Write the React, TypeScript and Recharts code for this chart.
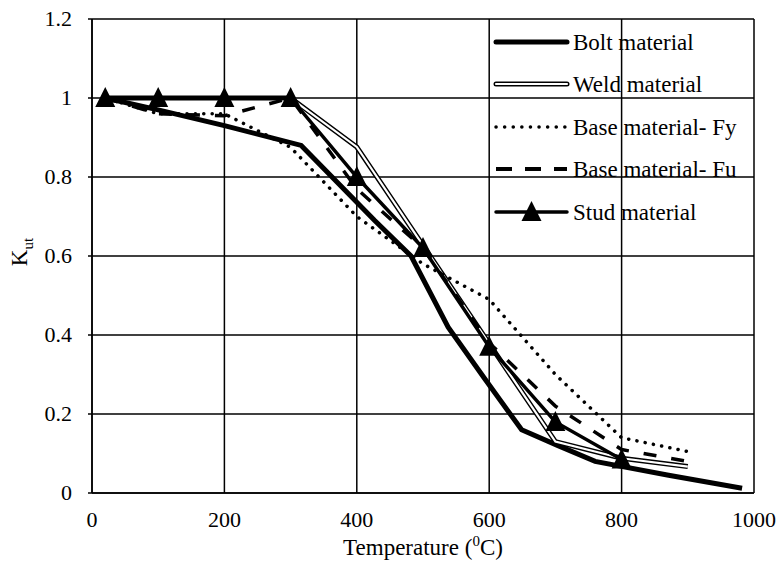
import React from 'react';
import { LineChart, Line, XAxis, YAxis, CartesianGrid, Label } from 'recharts';

const FONT = '"Liberation Serif", "Times New Roman", Times, serif';

// temperatures (°C) and reduction factors
const boltTemp = [20, 100, 200, 316, 427, 482, 538, 593, 649, 704, 760, 871, 982];
const boltK = [1.0, 0.97, 0.93, 0.88, 0.69, 0.6, 0.42, 0.29, 0.16, 0.12, 0.08, 0.045, 0.012];

const weldTemp = [20, 100, 200, 300, 400, 500, 600, 700, 800, 900];
const weldK = [1.0, 1.0, 1.0, 1.0, 0.876, 0.627, 0.378, 0.13, 0.088, 0.067];

const fyTemp = [20, 100, 200, 300, 400, 500, 600, 700, 800, 900];
const fyK = [1.0, 0.96, 0.96, 0.875, 0.7, 0.58, 0.49, 0.3, 0.14, 0.105];

const fuTemp = [20, 100, 200, 300, 400, 500, 600, 700, 800, 900];
const fuK = [1.0, 0.96, 0.955, 1.0, 0.77, 0.62, 0.38, 0.22, 0.11, 0.08];

const studTemp = [20, 100, 200, 300, 400, 500, 600, 700, 800];
const studK = [1.0, 1.0, 1.0, 1.0, 0.8, 0.62, 0.37, 0.18, 0.085];

const xTicks = [0, 200, 400, 600, 800, 1000];
const yTicks = [0, 0.2, 0.4, 0.6, 0.8, 1, 1.2];

const legendNames = ['Bolt material', 'Weld material', 'Base material- Fy', 'Base material- Fu', 'Stud material'];

const toPoints = (t: number[], k: number[]) => t.map((x, i) => ({ x, y: k[i] }));

const bolt = toPoints(boltTemp, boltK);
const weld = toPoints(weldTemp, weldK);
const fy = toPoints(fyTemp, fyK);
const fu = toPoints(fuTemp, fuK);
const stud = toPoints(studTemp, studK);

const Triangle = (props: any) => {
  const { cx, cy } = props;
  if (cx == null || cy == null) return null;
  return <polygon points={`${cx},${cy - 11} ${cx - 10},${cy + 9} ${cx + 10},${cy + 9}`} fill="#000" />;
};

const XTick = (props: any) => {
  const { x, y, payload } = props;
  return (
    <text x={x} y={y + 12} textAnchor="middle" fontFamily={FONT} fontSize={22} fill="#000">
      {payload.value}
    </text>
  );
};

const YTick = (props: any) => {
  const { x, y, payload } = props;
  return (
    <text x={x} y={y + 7} textAnchor="end" fontFamily={FONT} fontSize={22} fill="#000">
      {String(payload.value)}
    </text>
  );
};

// legend drawn over the plot, grid lines stay visible behind it
const LegendBox = () => {
  const rowY = [24, 66, 109, 151, 194];
  const x1 = 6;
  const x2 = 77;
  return (
    <svg width={270} height={215} style={{ position: 'absolute', left: 490, top: 18, overflow: 'visible' }}>
      <line x1={x1} x2={x2} y1={rowY[0]} y2={rowY[0]} stroke="#000" strokeWidth={5} strokeLinecap="round" />
      <line x1={x1} x2={x2} y1={rowY[1]} y2={rowY[1]} stroke="#000" strokeWidth={5} strokeLinecap="round" />
      <line x1={x1} x2={x2} y1={rowY[1]} y2={rowY[1]} stroke="#fff" strokeWidth={2.2} strokeLinecap="round" />
      <line x1={x1} x2={x2} y1={rowY[2]} y2={rowY[2]} stroke="#000" strokeWidth={3.5} strokeLinecap="round" strokeDasharray="0.1 8.5" />
      <line x1={x1} x2={x2} y1={rowY[3]} y2={rowY[3]} stroke="#000" strokeWidth={4} strokeDasharray="16 13" />
      <line x1={x1} x2={x2} y1={rowY[4]} y2={rowY[4]} stroke="#000" strokeWidth={3.5} strokeLinecap="round" />
      <Triangle cx={(x1 + x2) / 2} cy={rowY[4]} />
      {legendNames.map((n, i) => (
        <text key={n} x={83} y={rowY[i] + 8} fontFamily={FONT} fontSize={23} fill="#000">{n}</text>
      ))}
    </svg>
  );
};

export default function App() {
  return (
    <div style={{ position: 'absolute', left: 0, top: 0, width: 782, height: 565, background: '#fff', fontFamily: FONT }}>
      <LineChart width={782} height={565} margin={{ top: 19, right: 28, bottom: 32, left: 32 }}>
        <CartesianGrid stroke="#000" strokeWidth={1.5} horizontalValues={yTicks} verticalValues={xTicks} />
        <XAxis
          type="number"
          dataKey="x"
          domain={[0, 1000]}
          ticks={xTicks}
          height={40}
          tickSize={0}
          tickMargin={22}
          axisLine={{ stroke: '#000', strokeWidth: 1.5 }}
          tick={<XTick />}
          interval={0}
          allowDataOverflow
        >
          <Label
            content={(p: any) => {
              const vb = p.viewBox || { x: 92, y: 493, width: 662 };
              return (
                <text x={vb.x + vb.width / 2} y={vb.y + 62} textAnchor="middle" fontFamily={FONT} fontSize={23} fill="#000">
                  Temperature (<tspan dy={-9} fontSize={15}>0</tspan><tspan dy={9}>C)</tspan>
                </text>
              );
            }}
          />
        </XAxis>
        <YAxis
          type="number"
          domain={[0, 1.2]}
          ticks={yTicks}
          width={60}
          tickSize={4}
          tickMargin={16}
          axisLine={{ stroke: '#000', strokeWidth: 1.5 }}
          tickLine={{ stroke: '#000', strokeWidth: 1.5 }}
          tick={<YTick />}
          interval={0}
          allowDataOverflow
        >
          <Label
            content={() => (
              <text x={27} y={252} transform="rotate(-90, 27, 252)" textAnchor="middle" fontFamily={FONT} fontSize={23} fill="#000">
                K<tspan dy={6} fontSize={15}>ut</tspan>
              </text>
            )}
          />
        </YAxis>
        <Line data={bolt} dataKey="y" type="linear" stroke="#000" strokeWidth={5} dot={false} isAnimationActive={false} />
        <Line data={weld} dataKey="y" type="linear" stroke="#000" strokeWidth={5} dot={false} isAnimationActive={false} />
        <Line data={weld} dataKey="y" type="linear" stroke="#fff" strokeWidth={2.2} dot={false} isAnimationActive={false} />
        <Line data={fy} dataKey="y" type="linear" stroke="#000" strokeWidth={3.5} strokeLinecap="round" strokeDasharray="0.1 8.3" dot={false} isAnimationActive={false} />
        <Line data={fu} dataKey="y" type="linear" stroke="#000" strokeWidth={3.5} strokeDasharray="13 15" dot={false} isAnimationActive={false} />
        <Line data={stud} dataKey="y" type="linear" stroke="#000" strokeWidth={3.5} dot={<Triangle />} isAnimationActive={false} />
      </LineChart>
      <LegendBox />
    </div>
  );
}
